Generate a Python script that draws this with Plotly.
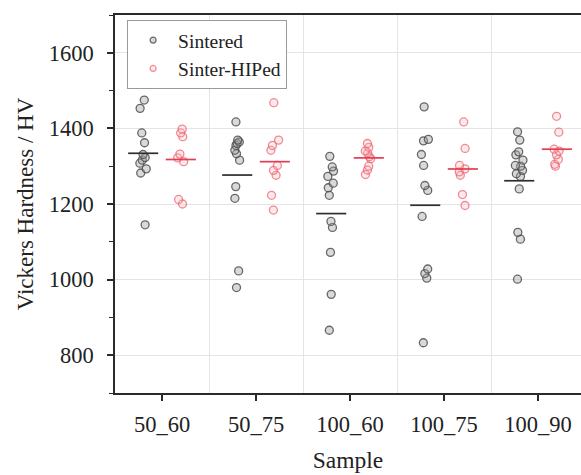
import numpy as np
import plotly.graph_objects as go

categories = ["50_60", "50_75", "100_60", "100_75", "100_90"]

sintered_50_60 = [1475, 1453, 1388, 1362, 1331, 1323, 1316, 1308, 1293, 1282, 1145]
sintered_50_75 = [1417, 1369, 1364, 1360, 1355, 1342, 1333, 1316, 1246, 1215, 1023, 979]
sintered_100_60 = [1326, 1298, 1287, 1273, 1255, 1243, 1223, 1154, 1138, 1072, 961, 866]
sintered_100_75 = [1457, 1371, 1367, 1331, 1302, 1249, 1236, 1167, 1028, 1016, 1004, 833]
sintered_100_90 = [1391, 1369, 1338, 1330, 1316, 1302, 1300, 1289, 1280, 1273, 1240, 1125, 1107, 1001]

hiped_50_60 = [1398, 1388, 1378, 1332, 1322, 1312, 1212, 1200]
hiped_50_75 = [1468, 1369, 1355, 1342, 1302, 1289, 1276, 1223, 1184]
hiped_100_60 = [1360, 1350, 1340, 1335, 1325, 1320, 1300, 1290, 1278]
hiped_100_75 = [1417, 1347, 1302, 1293, 1285, 1276, 1225, 1196]
hiped_100_90 = [1432, 1390, 1345, 1340, 1330, 1318, 1305, 1300]

sintered = [sintered_50_60, sintered_50_75, sintered_100_60, sintered_100_75, sintered_100_90]
hiped = [hiped_50_60, hiped_50_75, hiped_100_60, hiped_100_75, hiped_100_90]

FONT = "Liberation Serif"
GRID = "#e4e4e4"
AXIS = "#2a2a2a"

series = [
    dict(name="Sintered", data=sintered, edge="rgba(80,80,80,0.85)",
         fill="rgba(160,160,160,0.4)", mean="rgb(45,45,45)", side=-1),
    dict(name="Sinter-HIPed", data=hiped, edge="rgba(235,100,115,0.75)",
         fill="rgba(250,185,190,0.30)", mean="rgb(228,60,80)", side=1),
]

fig = go.Figure()

positions = np.arange(1, len(categories) + 1)

for s in series:
    xs, ys = [], []
    for p, vals in zip(positions, s["data"]):
        xs += [p] * len(vals)
        ys += list(vals)
    fig.add_trace(go.Box(
        x=xs, y=ys, name=s["name"], showlegend=False,
        boxpoints="all", jitter=0.25, pointpos=0,
        fillcolor="rgba(0,0,0,0)", line=dict(width=0, color="rgba(0,0,0,0)"),
        marker=dict(size=8, color=s["fill"], line=dict(width=1.3, color=s["edge"])),
        hoveron="points",
    ))

half = 0.16
offset = 0.2
for s in series:
    mx, my = [], []
    for p, vals in zip(positions, s["data"]):
        m = float(np.mean(vals))
        c = p + s["side"] * offset
        mx += [c - half, c + half, None]
        my += [m, m, None]
    fig.add_trace(go.Scatter(x=mx, y=my, mode="lines", showlegend=False,
                             line=dict(color=s["mean"], width=1.7), hoverinfo="skip"))

for s in series:
    fig.add_trace(go.Scatter(x=[None], y=[None], mode="markers", name=s["name"],
                             marker=dict(size=6, color=s["fill"],
                                         line=dict(width=1.2, color=s["edge"]))))

fig.update_layout(
    width=581, height=475,
    margin=dict(l=115, r=0, t=15, b=82),
    plot_bgcolor="white", paper_bgcolor="white",
    boxmode="group", boxgap=0.2, boxgroupgap=0,
    font=dict(family=FONT, color="#222222", size=21),
    legend=dict(x=0.026, y=0.987, xanchor="left", yanchor="top",
                bgcolor="white", bordercolor="#9a9a9a", borderwidth=1,
                font=dict(family=FONT, size=19.5, color="#222222"),
                itemwidth=40, tracegroupgap=0),
)

fig.update_xaxes(
    range=[0.5, 5.457], tickmode="array", tickvals=list(positions), ticktext=categories,
    ticks="outside", ticklen=6, tickwidth=1.5, tickcolor=AXIS,
    showline=True, linecolor=AXIS, linewidth=1.5, mirror=True,
    showgrid=False, zeroline=False,
    minor=dict(tickvals=list(positions[:-1] + 0.5), showgrid=True, gridcolor=GRID,
               gridwidth=1, ticks=""),
    tickfont=dict(size=22.5), ticklabelstandoff=4,
    title=dict(text="Sample", font=dict(size=23.5), standoff=16),
)

fig.update_yaxes(
    range=[700, 1700], tick0=0, dtick=200,
    ticks="outside", ticklen=6, tickwidth=1.5, tickcolor=AXIS,
    showline=True, linecolor=AXIS, linewidth=1.5, mirror=False,
    showgrid=True, gridcolor=GRID, gridwidth=1, zeroline=False,
    minor=dict(dtick=100, tick0=0, ticks="outside", ticklen=4, tickwidth=1.2,
               tickcolor=AXIS, showgrid=False),
    tickfont=dict(size=22.5), ticklabelstandoff=9,
    title=dict(text="Vickers Hardness / HV", font=dict(size=23), standoff=9),
)

fig.write_html("out.html")
